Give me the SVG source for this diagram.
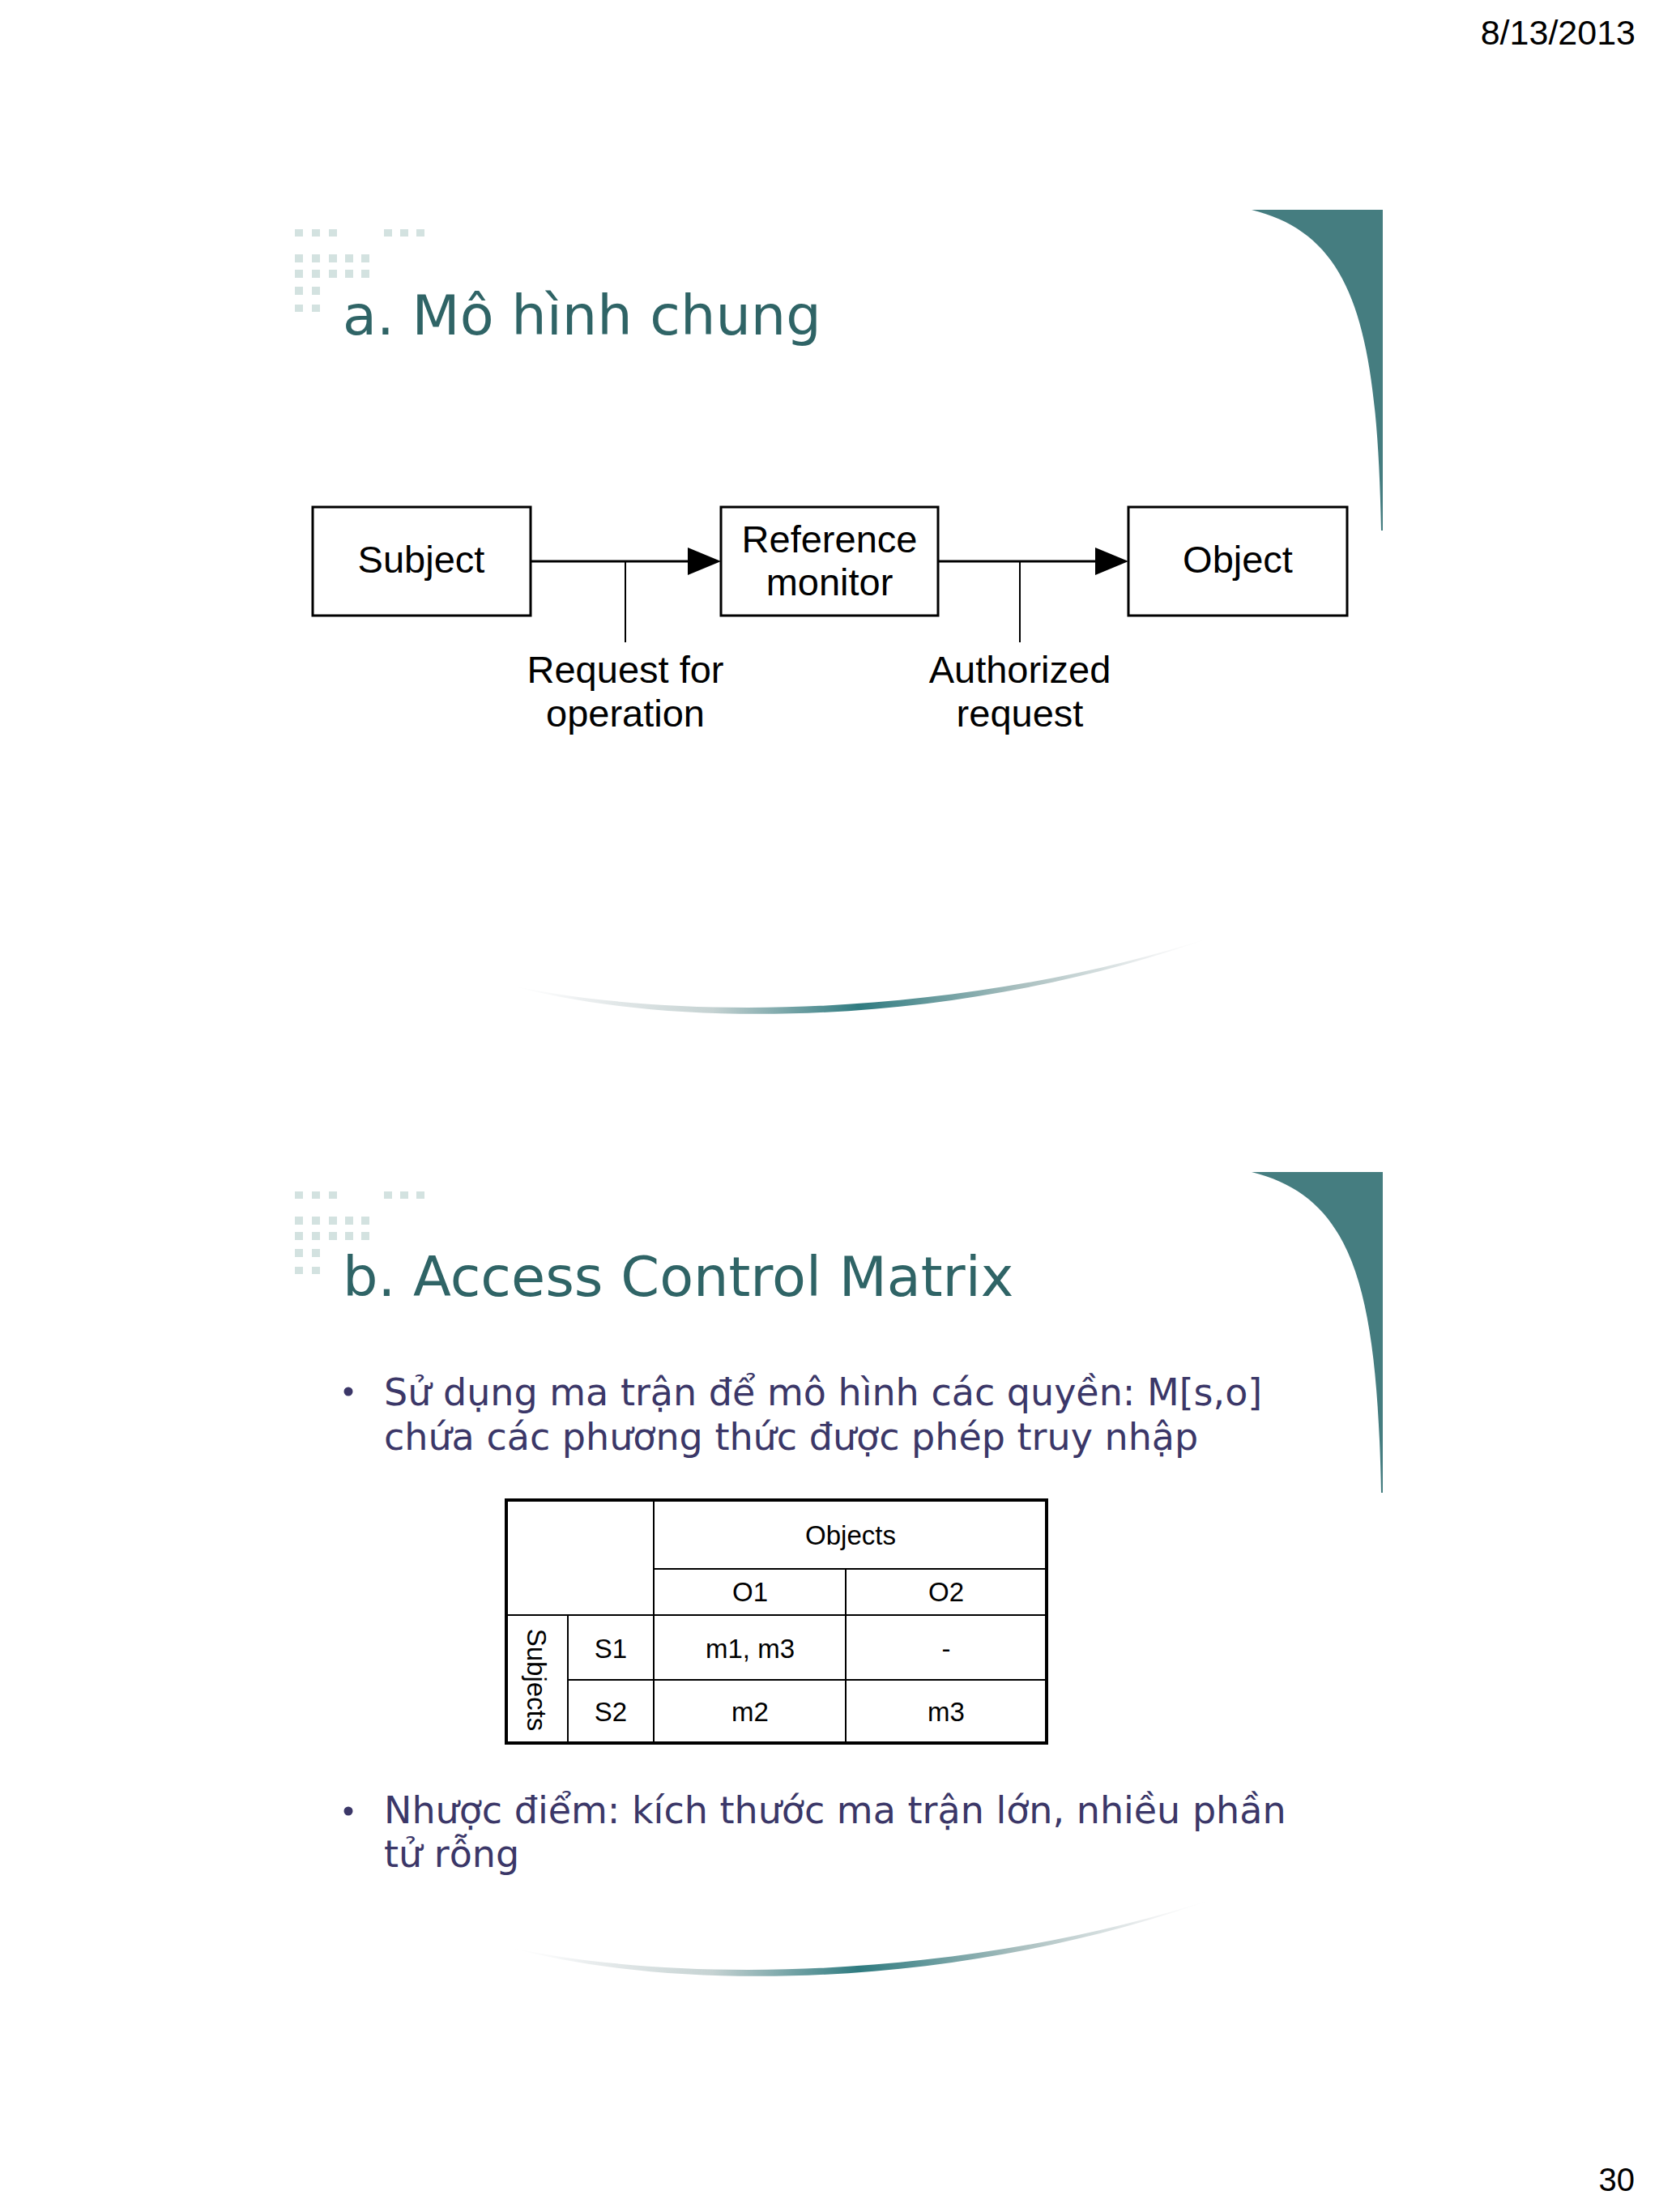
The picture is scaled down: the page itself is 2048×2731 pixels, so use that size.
<svg xmlns="http://www.w3.org/2000/svg" width="2048" height="2731" viewBox="0 0 2048 2731">
  <style>
    .box { fill: #ffffff; stroke: #000000; stroke-width: 3; }
    .lbl { font-family: "Liberation Sans", Arial, sans-serif; font-size: 47px; fill: #000000; text-anchor: middle; }
    .title { font-family: "DejaVu Sans", Verdana, sans-serif; font-size: 68.5px; fill: #2f6466; }
    .bul { font-family: "DejaVu Sans", Verdana, sans-serif; font-size: 46px; fill: #3b3768; }
    .dot { fill: #d3e2e0; }
    .teal { fill: #457d80; }
    .conn { stroke: #000000; stroke-width: 3; fill: none; }
    .tick { stroke: #000000; stroke-width: 2; fill: none; }
    .tb { font-family: "Liberation Sans", Arial, sans-serif; font-size: 33px; fill: #000000; text-anchor: middle; }
    .inner { stroke: #000000; stroke-width: 2; fill: none; }
    .outer { stroke: #000000; stroke-width: 4; fill: none; }
    .meta { font-family: "Liberation Sans", Arial, sans-serif; fill: #000000; text-anchor: end; }
  </style>
  <defs>
    <marker id="arrow" viewBox="0 0 41 34" refX="11" refY="17" markerWidth="41" markerHeight="34" markerUnits="userSpaceOnUse" orient="auto">
      <path d="M0,0 L41,17 L0,34 Z" fill="#000000"/>
    </marker>
    <linearGradient id="swoosh" gradientUnits="userSpaceOnUse" x1="610" y1="0" x2="1510" y2="0">
      <stop offset="0" stop-color="#ffffff" stop-opacity="0"/>
      <stop offset="0.12" stop-color="#eceff0"/>
      <stop offset="0.3" stop-color="#c5d2d2"/>
      <stop offset="0.5" stop-color="#2f7b80"/>
      <stop offset="0.72" stop-color="#a9bfbf"/>
      <stop offset="0.9" stop-color="#eef0f1"/>
      <stop offset="1" stop-color="#ffffff" stop-opacity="0"/>
    </linearGradient>
    <g id="dots">
      <rect class="dot" x="364" y="283" width="10" height="9"/>
      <rect class="dot" x="385" y="283" width="10" height="9"/>
      <rect class="dot" x="406" y="283" width="10" height="9"/>
      <rect class="dot" x="474" y="283" width="10" height="9"/>
      <rect class="dot" x="494" y="283" width="10" height="9"/>
      <rect class="dot" x="514" y="283" width="10" height="9"/>
      <rect class="dot" x="364" y="314" width="10" height="10"/>
      <rect class="dot" x="385" y="314" width="10" height="10"/>
      <rect class="dot" x="406" y="314" width="10" height="10"/>
      <rect class="dot" x="426" y="314" width="10" height="10"/>
      <rect class="dot" x="446" y="314" width="10" height="10"/>
      <rect class="dot" x="364" y="333" width="10" height="10"/>
      <rect class="dot" x="385" y="333" width="10" height="10"/>
      <rect class="dot" x="406" y="333" width="10" height="10"/>
      <rect class="dot" x="426" y="333" width="10" height="10"/>
      <rect class="dot" x="446" y="333" width="10" height="10"/>
      <rect class="dot" x="364" y="354" width="10" height="10"/>
      <rect class="dot" x="385" y="354" width="10" height="10"/>
      <rect class="dot" x="364" y="376" width="10" height="9"/>
      <rect class="dot" x="385" y="376" width="10" height="9"/>
    </g>
    <path id="corner" d="M1545,259 L1707,259 L1707,655 L1705,655 C1700,400 1670,290 1545,259 Z"/>
    <path id="arc" d="M627,1216 C850,1264 1200,1254 1502,1155 C1200,1264 850,1276 627,1216 Z"/>
  </defs>

  <rect x="0" y="0" width="2048" height="2731" fill="#ffffff"/>

  <!-- page meta -->
  <text class="meta" x="2019" y="55" font-size="43">8/13/2013</text>
  <text class="meta" x="2018" y="2705" font-size="40">30</text>

  <!-- Slide 1 decoration -->
  <use href="#dots"/>
  <use href="#corner" class="teal"/>
  <use href="#arc" fill="url(#swoosh)"/>
  <text class="title" x="423" y="413">a. Mô hình chung</text>

  <!-- Slide 1 diagram nodes -->
  <g id="subject">
    <rect class="box" x="386" y="626" width="269" height="134"/>
    <text class="lbl" x="520" y="707">Subject</text>
  </g>
  <g id="reference-monitor">
    <rect class="box" x="890" y="626" width="268" height="134"/>
    <text class="lbl" x="1024" y="682">Reference</text>
    <text class="lbl" x="1024" y="735">monitor</text>
  </g>
  <g id="object">
    <rect class="box" x="1393" y="626" width="270" height="134"/>
    <text class="lbl" x="1528" y="707">Object</text>
  </g>

  <!-- Connectors -->
  <g id="connectors">
    <line class="conn" x1="656" y1="693" x2="860" y2="693" marker-end="url(#arrow)"/>
    <line class="tick" x1="772" y1="693" x2="772" y2="793"/>
    <text class="lbl" x="772" y="843">Request for</text>
    <text class="lbl" x="772" y="897">operation</text>
    <line class="conn" x1="1159" y1="693" x2="1363" y2="693" marker-end="url(#arrow)"/>
    <line class="tick" x1="1259" y1="693" x2="1259" y2="793"/>
    <text class="lbl" x="1259" y="843">Authorized</text>
    <text class="lbl" x="1259" y="897">request</text>
  </g>

  <!-- Slide 2 decoration -->
  <g transform="translate(0,1188)">
    <use href="#dots"/>
    <use href="#corner" class="teal"/>
    <use href="#arc" fill="url(#swoosh)"/>
  </g>
  <text class="title" x="423" y="1600">b. Access Control Matrix</text>

  <g id="bullet-1">
    <circle cx="430" cy="1718" r="5.5" fill="#3b3768"/>
    <text class="bul" x="474" y="1735">Sử dụng ma trận để mô hình các quyền: M[s,o]</text>
    <text class="bul" x="474" y="1790">chứa các phương thức được phép truy nhập</text>
  </g>

  <g id="matrix">
    <line class="inner" x1="807" y1="1852" x2="807" y2="2152"/>
    <line class="inner" x1="701" y1="1994" x2="701" y2="2152"/>
    <line class="inner" x1="1044" y1="1937" x2="1044" y2="2152"/>
    <line class="inner" x1="807" y1="1937" x2="1292" y2="1937"/>
    <line class="inner" x1="625" y1="1994" x2="1292" y2="1994"/>
    <line class="inner" x1="701" y1="2074" x2="1292" y2="2074"/>
    <rect class="outer" x="625" y="1852" width="667" height="300"/>
    <text class="tb" x="1050" y="1907">Objects</text>
    <text class="tb" x="926" y="1977">O1</text>
    <text class="tb" x="1168" y="1977">O2</text>
    <text class="tb" x="754" y="2047">S1</text>
    <text class="tb" x="926" y="2047">m1, m3</text>
    <text class="tb" x="1168" y="2047">-</text>
    <text class="tb" x="754" y="2125">S2</text>
    <text class="tb" x="926" y="2125">m2</text>
    <text class="tb" x="1168" y="2125">m3</text>
    <text class="tb" transform="translate(651,2074) rotate(90)" x="0" y="0">Subjects</text>
  </g>

  <g id="bullet-2">
    <circle cx="430" cy="2236" r="5.5" fill="#3b3768"/>
    <text class="bul" x="474" y="2251">Nhược điểm: kích thước ma trận lớn, nhiều phần</text>
    <text class="bul" x="474" y="2305">tử rỗng</text>
  </g>
</svg>
